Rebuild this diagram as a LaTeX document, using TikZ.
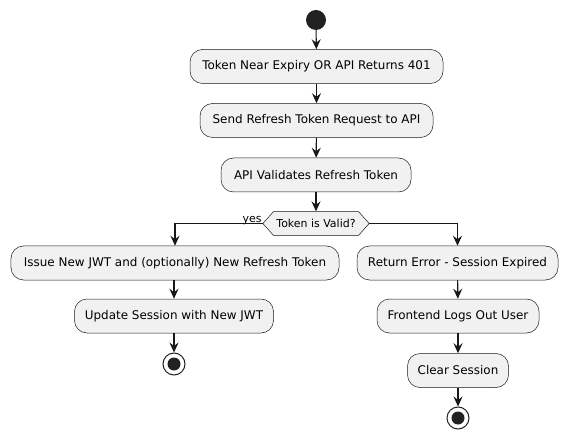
\documentclass[tikz,border=0pt]{standalone}
\usepackage{fontspec}
\setmainfont{DejaVu Sans}
\usetikzlibrary{arrows.meta,backgrounds}
\definecolor{lineC}{HTML}{181818}
\definecolor{boxC}{HTML}{F1F1F1}
\definecolor{dotC}{HTML}{222222}
\tikzset{
  x=1bp, y=-1bp,
  act/.style={draw=lineC, line width=0.5bp, fill=boxC, rounded corners=12.5bp,
    minimum height=34bp, inner sep=0pt, font=\fontsize{12}{14}\selectfont, text=black},
  arr/.style={draw=lineC, line width=1.1bp, -{Stealth[length=10bp,width=9bp,inset=3.5bp]}},
  startdot/.style={circle, fill=dotC, minimum size=20bp, inner sep=0pt},
  enddot/.style={circle, draw=dotC, line width=1bp, fill=white, minimum size=22bp, inner sep=0pt,
    path picture={\fill[dotC] (path picture bounding box.center) circle (6.5bp);}},
  decnode/.style={minimum width=106bp, minimum height=24bp, inner sep=0pt, font=\fontsize{11}{13}\selectfont},
  lbl/.style={font=\fontsize{11}{13}\selectfont, inner sep=0pt}
}
\begin{document}
\begin{tikzpicture}
\useasboundingbox (0,0) rectangle (569,440);
\node[startdot] (start) at (316,20) {};
\node[act, minimum width=253bp] (b1) at (316.5,66.5) {Token Near Expiry OR API Returns 401};
\node[act, minimum width=233bp] (b2) at (316.5,120.5) {Send Refresh Token Request to API};
\node[act, minimum width=190bp] (b3) at (316,175) {API Validates Refresh Token};
\node[decnode] (dec) at (316,223.5) {Token is Valid?};
\begin{scope}[on background layer]
\draw[draw=lineC, line width=0.5bp, fill=boxC] (dec.west) -- ([xshift=11bp]dec.north west) -- ([xshift=-11bp]dec.north east) -- (dec.east) -- ([xshift=-11bp]dec.south east) -- ([xshift=11bp]dec.south west) -- cycle;
\end{scope}
\node[lbl, anchor=south east] (yes) at ([xshift=-1bp,yshift=-1bp]dec.west) {yes};
\node[act, minimum width=328bp] (b4) at (175,263) {Issue New JWT and (optionally) New Refresh Token};
\node[act, minimum width=199bp] (b6) at (174,316) {Update Session with New JWT};
\node[enddot] (endL) at (174,364) {};
\node[act, minimum width=201bp] (b5) at (457.5,263) {Return Error - Session Expired};
\node[act, minimum width=162bp] (b7) at (458,316) {Frontend Logs Out User};
\node[act, minimum width=101bp] (b8) at (458,370.5) {Clear Session};
\node[enddot] (endR) at (458,418) {};
\draw[arr] (start) -- (b1);
\draw[arr] (b1) -- (b2);
\draw[arr] (b2) -- (b3);
\draw[arr] (b3) -- (dec.north);
\draw[arr] (dec.west) -| (b4.north);
\draw[arr] (dec.east) -| (b5.north);
\draw[arr] (b4.south -| b6) -- (b6);
\draw[arr] (b6) -- (endL);
\draw[arr] (b5) -- (b7);
\draw[arr] (b7) -- (b8);
\draw[arr] (b8) -- (endR);
\end{tikzpicture}
\end{document}
